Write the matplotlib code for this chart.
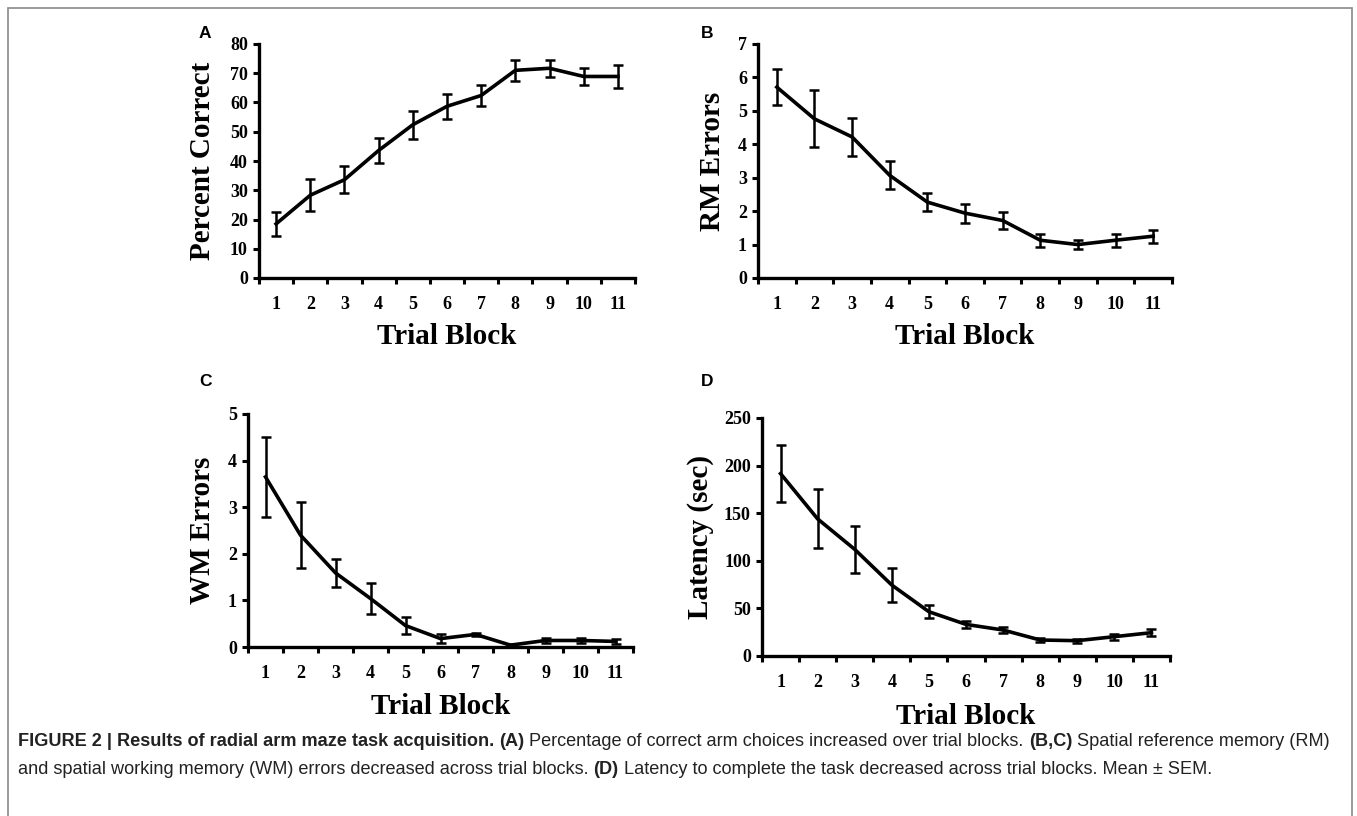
import matplotlib
matplotlib.use("Agg")
import matplotlib.pyplot as plt
from matplotlib.patches import Rectangle

# data (mean and SEM per trial block)
blocks = list(range(1, 12))

pct_mean = [18.5, 28.3, 33.6, 43.6, 52.4, 58.7, 62.4, 71.0, 71.7, 68.9, 68.9]
pct_sem = [4.0, 5.5, 4.6, 4.2, 4.8, 4.2, 3.5, 3.6, 2.9, 3.0, 4.0]

rm_mean = [5.71, 4.76, 4.22, 3.07, 2.27, 1.94, 1.72, 1.13, 1.00, 1.13, 1.25]
rm_sem = [0.54, 0.85, 0.58, 0.42, 0.28, 0.28, 0.24, 0.19, 0.14, 0.19, 0.20]

wm_mean = [3.65, 2.40, 1.59, 1.04, 0.46, 0.18, 0.27, 0.04, 0.14, 0.14, 0.12]
wm_sem = [0.85, 0.71, 0.30, 0.33, 0.18, 0.10, 0.03, 0.02, 0.06, 0.05, 0.06]

lat_mean = [191.6, 144, 112, 74.5, 46.5, 33.2, 27.3, 16.8, 16.1, 20.3, 24.5]
lat_sem = [30, 31, 25, 18, 7, 4, 3.5, 2, 2, 3, 4]

W, H = 1357, 816
fig = plt.figure(figsize=(W / 100, H / 100), dpi=100)

serif = "Liberation Serif"
sans = "Liberation Sans"


def px_axes(l, t, r, b):
    return fig.add_axes([l / W, 1 - b / H, (r - l) / W, (b - t) / H])


def panel(box, mean, sem, ymax, ystep, ylabel, ylab_x, xlab_y, letter, letter_xy):
    l, t, r, b = box
    ax = px_axes(l, t, r, b)
    ax.errorbar(blocks, mean, yerr=sem, color="black", lw=2.6, elinewidth=1.8,
                capsize=3.5, capthick=1.8, zorder=3)
    ax.set_xlim(0.5, 11.5)
    ax.set_ylim(0, ymax)
    ax.set_yticks([ystep * i for i in range(int(round(ymax / ystep)) + 1)])
    ax.set_xticks(blocks)
    ax.set_xticks([x + 0.5 for x in range(0, 12)], minor=True)
    for s in ["top", "right"]:
        ax.spines[s].set_visible(False)
    for s in ["left", "bottom"]:
        ax.spines[s].set_linewidth(2.4)
    ax.tick_params(axis="x", which="major", length=0, pad=13)
    ax.tick_params(axis="x", which="minor", length=4, width=2.2, direction="out")
    ax.tick_params(axis="y", length=4, width=2.2, direction="out", pad=4)
    for lab in ax.get_xticklabels() + ax.get_yticklabels():
        lab.set_fontfamily(serif)
        lab.set_fontweight("bold")
        lab.set_fontsize(13)
    ax.set_ylabel(ylabel, fontfamily=serif, fontweight="bold", fontsize=21, va="center")
    ax.yaxis.set_label_coords((ylab_x - l) / (r - l), 0.5)
    ax.set_xlabel("Trial Block", fontfamily=serif, fontweight="bold", fontsize=21, va="center")
    ax.xaxis.set_label_coords(0.5, (b - xlab_y) / (b - t))
    fig.text(letter_xy[0] / W, 1 - letter_xy[1] / H, letter, fontfamily=sans,
             fontweight="bold", fontsize=12.5, ha="center", va="center")
    return ax


panel((259, 44, 635, 278), pct_mean, pct_sem, 80, 10, "Percent Correct", 203, 337, "A", (205, 34))
panel((758, 44, 1172, 278), rm_mean, rm_sem, 7, 1, "RM Errors", 712, 337, "B", (707, 34))
panel((248, 414, 633, 647), wm_mean, wm_sem, 5, 1, "WM Errors", 203, 707, "C", (206, 382))
panel((762, 418, 1170, 656), lat_mean, lat_sem, 250, 50, "Latency (sec)", 700, 717, "D", (707, 382))

# outer frame
fig.patches.append(Rectangle((8 / W, -0.01), (1352 - 8) / W, 1 - 8 / H + 0.01,
                             transform=fig.transFigure, fill=False,
                             edgecolor="#8a8a8a", lw=1.2))

# caption, written piece by piece so bold and normal runs sit side by side
line1 = [
    ("FIGURE 2 | Results of radial arm maze task acquisition. ", "bold"),
    ("(A)", "bold"),
    (" Percentage of correct arm choices increased over trial blocks. ", "normal"),
    ("(B,C)", "bold"),
    (" Spatial reference memory (RM)", "normal"),
]
line2 = [
    ("and spatial working memory (WM) errors decreased across trial blocks. ", "normal"),
    ("(D)", "bold"),
    (" Latency to complete the task decreased across trial blocks. Mean \u00b1 SEM.", "normal"),
]

fig.canvas.draw()
renderer = fig.canvas.get_renderer()


def write_line(parts, y_px):
    x = 18
    for txt, wt in parts:
        t = fig.text(x / W, 1 - y_px / H, txt, fontfamily=sans, fontweight=wt,
                     fontsize=13.1, va="center", color="#222222")
        bb = t.get_window_extent(renderer=renderer)
        x += bb.width


write_line(line1, 742)
write_line(line2, 769)

fig.savefig("out.png", dpi=100)
